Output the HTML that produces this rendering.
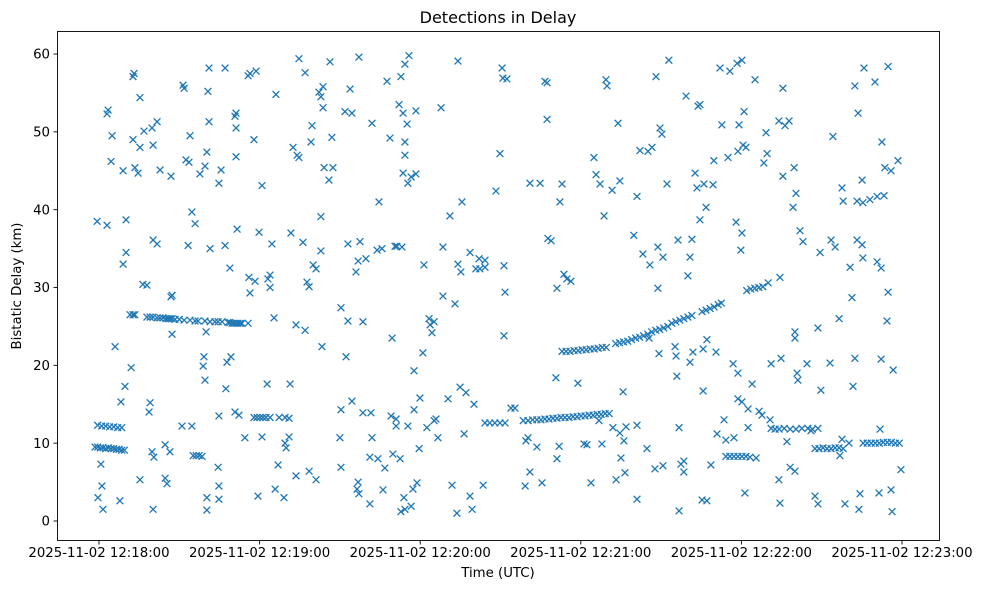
<!DOCTYPE html>
<html><head><meta charset="utf-8"><style>
html,body{margin:0;padding:0;background:#fff;width:985px;height:590px;overflow:hidden}
svg text{font-family:"DejaVu Sans","Liberation Sans",sans-serif;fill:#000}
</style></head><body>
<svg id="chart" width="985" height="590" xmlns="http://www.w3.org/2000/svg">
<rect x="0" y="0" width="985" height="590" fill="#fff"/>
<text x="498" y="23" font-size="16" text-anchor="middle">Detections in Delay</text>
<text x="498" y="577" font-size="13.3" text-anchor="middle">Time (UTC)</text>
<text x="0" y="0" font-size="13.3" text-anchor="middle" transform="translate(21,286) rotate(-90)">Bistatic Delay (km)</text>
<g id="marks"></g>
<g id="axes"></g>
<rect x="57.5" y="31.5" width="882" height="509" fill="none" stroke="#000" stroke-width="0.9"/>
</svg>
<script>
// time = seconds since 2025-11-02 12:18:00 UTC, delay = km
const xTickSeconds = [0, 60, 120, 180, 240, 300];
const xTickLabels = ["2025-11-02 12:18:00","2025-11-02 12:19:00","2025-11-02 12:20:00","2025-11-02 12:21:00","2025-11-02 12:22:00","2025-11-02 12:23:00"];
const yTicks = [0, 10, 20, 30, 40, 50, 60];

const trackEarly9 = [[-1.5,9.5],[-0.5,9.5],[0.5,9.4],[1.5,9.4],[2.5,9.3],[3.5,9.4],[4.5,9.3],[5.5,9.3],[6.5,9.2],[7.5,9.2],[8.5,9.1],[9.5,9.1]];
const trackEarly12 = [[-0.5,12.3],[1,12.2],[2.5,12.2],[4,12.1],[5.5,12.1],[7,12.0],[8.5,12.0]];
const track26 = [[11.6,26.5],[12.7,26.5],[13.4,26.5],[17.9,26.2],[19.1,26.2],[20.2,26.2],[21.7,26.1],[22.8,26.1],[23.9,26.1],[25.0,26.0],[25.8,26.0],[26.5,26.0],[27.3,26.0],[28.4,25.9],[30.0,25.9],[31.8,25.8],[34.0,25.8],[35.9,25.7],[37.0,25.7],[39.6,25.7],[41.5,25.6],[43.3,25.6],[44.5,25.6],[46.0,25.6],[48.2,25.5],[48.9,25.5],[49.7,25.4],[50.4,25.4],[51.2,25.4],[51.9,25.4],[52.7,25.4],[53.4,25.4],[55.7,25.4]];
const track8a = [[35.2,8.4],[36.3,8.4],[37.4,8.4],[38.5,8.3]];
const track13a = [[57.9,13.3],[59.0,13.3],[60.2,13.3],[61.3,13.3],[62.4,13.3],[63.9,13.3],[67.3,13.3],[69.5,13.3],[71.0,13.2]];
const track12b = [[144.2,12.6],[146.0,12.6],[147.9,12.6],[149.8,12.6],[151.7,12.6]];
const track13b = [[158.5,12.9],[160.3,12.9],[162.0,13.0],[163.6,13.0],[165.1,13.0],[166.6,13.1],[168.1,13.1],[169.6,13.2],[171.1,13.2],[172.6,13.3],[174.1,13.3],[175.6,13.3],[177.1,13.4],[178.6,13.4],[180.1,13.5],[181.6,13.5],[183.1,13.6],[184.6,13.6],[186.1,13.7],[187.6,13.7],[189.1,13.8],[190.6,13.8]];
const trackRising = [[173.0,21.8],[174.5,21.8],[176.0,21.8],[177.5,21.9],[179.0,21.9],[180.5,22.0],[182.0,22.0],[183.5,22.1],[185.0,22.1],[186.5,22.2],[188.0,22.3],[189.5,22.3],[193.0,22.8],[194.5,22.9],[196.0,23.0],[197.5,23.1],[199.0,23.3],[200.5,23.5],[202.0,23.6],[203.5,23.8],[205.0,24.0],[206.5,24.3],[208.0,24.5],[209.5,24.6],[211.0,24.8],[212.5,25.0],[214.0,25.4],[215.5,25.6],[217.0,25.8],[218.5,26.0],[220.0,26.2],[221.5,26.4],[225.3,26.9],[226.8,27.1],[228.3,27.3],[229.8,27.5],[231.3,27.8],[232.5,28.0],[242.0,29.6],[243.5,29.8],[245.0,29.9],[246.5,30.0],[248.0,30.1],[250.0,30.6],[254.4,31.3]];
const track8b = [[234.2,8.3],[235.7,8.3],[237.2,8.3],[238.7,8.3],[240.2,8.3],[241.7,8.3],[243.2,8.2]];
const track12c = [[251.1,11.9],[252.6,11.8],[254.1,11.8],[256.0,11.9],[258.2,11.8],[260.4,11.8],[262.6,11.9],[264.8,11.9],[266.5,11.8],[268.6,11.9]];
const track9c = [[267.5,9.3],[269.0,9.3],[270.5,9.4],[272.0,9.3],[273.5,9.3],[275.0,9.4],[276.5,9.4],[278.0,9.3]];
const track10c = [[285.5,10.0],[287.0,10.0],[288.5,10.0],[290.0,10.0],[291.5,10.0],[293.0,10.1],[294.5,10.1],[296.0,10.1],[297.5,10.0],[299.0,10.0]];
const scattered = [[-0.7,38.5],[-0.4,3],[0.7,7.3],[1.5,1.5],[1.1,4.5],[3.0,52.3],[3.4,52.8],[3.0,38],[4.9,49.5],[4.5,46.2],[6.0,22.4],[7.8,2.6],[8.2,15.3],[9.0,45],[9.7,17.3],[10.1,34.5],[9.0,33],[10.1,38.7],[12.0,19.7],[12.7,57.1],[13.1,57.5],[12.7,49],[13.4,45.4],[15.3,54.4],[15.3,5.3],[14.6,44.7],[15.3,48],[16.4,30.4],[17.9,30.3],[16.8,50.1],[18.7,14],[19.1,15.2],[19.8,8.9],[20.5,8.2],[20.2,1.5],[19.8,50.5],[20.2,48.3],[20.2,36.1],[21.7,35.6],[21.7,51.3],[22.8,45.1],[24.7,5.5],[25.4,4.8],[24.7,9.8],[26.5,8.9],[26.9,44.3],[27.3,29],[27.3,24],[26.9,28.8],[31.0,12.2],[31.4,56],[31.8,55.6],[32.5,46.4],[33.3,35.4],[33.6,46.1],[34.0,49.5],[34.7,12.2],[34.7,39.7],[35.9,38.2],[37.7,44.6],[38.9,19.9],[39.2,21.1],[39.6,18.1],[39.6,45.6],[40.0,24.3],[40.3,47.4],[40.3,3],[40.3,1.4],[41.1,58.2],[40.7,55.2],[41.1,51.3],[41.5,35],[44.5,6.9],[44.8,4.5],[44.8,2.8],[44.8,43.4],[45.6,45.1],[44.8,13.5],[47.1,58.2],[47.1,35.4],[47.4,17],[47.8,20.4],[49.3,21.1],[48.9,32.5],[50.8,52],[51.2,52.4],[51.2,50.5],[51.2,46.8],[50.8,14],[51.6,37.5],[52.3,13.6],[54.5,10.7],[55.7,57.2],[56.4,57.5],[56.0,31.3],[56.4,29.3],[57.9,49],[58.3,30.8],[58.7,57.8],[59.4,3.2],[59.8,37.1],[60.9,43.1],[60.9,10.8],[62.8,17.6],[63.1,31.1],[63.9,31.6],[63.9,30],[64.6,35.6],[65.4,26.1],[66.1,54.8],[66.9,7.2],[65.8,4.1],[69.1,3],[69.9,9.4],[69.5,10],[71.0,10.8],[71.7,37],[71.4,17.6],[72.5,48],[73.6,5.8],[74.0,47],[74.7,46.7],[73.6,25.2],[74.7,59.4],[76.2,35.8],[77.0,57.6],[77.0,24.5],[77.7,30.7],[78.5,30.1],[78.5,6.4],[79.2,48.7],[79.6,50.8],[80.0,32.9],[81.1,5.3],[81.1,32.4],[82.2,55.1],[82.9,54.5],[82.9,34.7],[83.7,53.1],[83.7,55.8],[82.9,39.1],[83.3,22.4],[84.1,45.4],[85.9,43.8],[86.3,59],[87.4,45.4],[87.0,49.3],[90.0,10.7],[90.4,14.3],[90.4,6.9],[90.4,27.4],[91.9,52.6],[92.3,21.1],[93.0,35.6],[93.0,25.7],[93.8,55.5],[94.5,52.4],[94.5,15.4],[96.0,32],[96.4,4.1],[97.1,3.5],[96.8,5],[96.8,33.4],[97.1,59.6],[97.5,35.9],[98.6,13.9],[98.6,25.6],[99.7,33.7],[101.2,2.2],[101.2,8.2],[101.6,13.9],[102.0,51.1],[102.0,10.7],[103.9,34.8],[104.6,41],[104.2,8],[105.7,35],[106.1,4],[106.8,6.8],[107.6,56.5],[108.7,49.2],[109.1,13.5],[109.5,23.5],[109.8,8.6],[110.6,35.3],[111.0,13.1],[111.0,12.2],[111.3,35.3],[112.1,53.5],[112.5,8],[112.8,1.2],[112.8,57.1],[113.2,35.2],[113.6,52.4],[113.6,44.7],[113.9,3],[114.3,1.5],[114.3,47],[114.3,58.7],[114.3,48.7],[115.1,51],[115.4,12.2],[115.4,43.4],[115.8,59.8],[116.6,1.9],[116.6,44.2],[117.3,4.1],[117.7,19.3],[117.7,14.3],[118.4,44.6],[118.4,52.7],[118.8,4.9],[119.6,9.3],[119.9,15.8],[121.0,21.6],[121.4,32.9],[122.5,12],[123.3,26],[123.7,25.2],[124.4,24.2],[125.2,12.9],[125.2,25.6],[125.9,13.1],[126.6,10.7],[127.8,53.1],[128.5,35.2],[128.5,28.9],[130.4,15.7],[131.1,39.2],[131.9,4.6],[133.0,27.9],[133.7,1],[134.1,59.1],[134.1,33],[134.9,17.2],[135.2,32],[135.6,41],[136.4,11.2],[137.1,16.5],[138.6,3.2],[138.6,34.5],[139.4,1.5],[140.1,15],[140.8,32.4],[142.0,33.7],[142.3,32.4],[144.2,32.6],[143.5,4.6],[144.2,33.5],[148.3,42.4],[149.8,47.2],[150.6,58.2],[150.9,56.9],[151.3,23.8],[151.3,32.8],[151.7,29.4],[152.4,56.8],[153.9,14.5],[155.4,14.5],[159.2,4.5],[159.5,10.3],[160.3,10.7],[161.0,43.4],[161.0,6.3],[163.6,9.5],[164.8,43.4],[165.5,4.9],[166.6,56.5],[167.4,56.3],[167.4,51.6],[167.7,36.3],[168.9,36],[170.7,18.4],[171.1,29.9],[171.1,8],[171.9,9.6],[172.2,41],[173.0,43.3],[173.7,31.7],[174.8,31.1],[176.3,30.8],[178.9,17.7],[181.2,9.9],[182.3,9.8],[183.8,4.9],[184.9,46.7],[185.7,44.5],[186.8,12.9],[187.2,43.3],[187.9,9.9],[188.7,39.2],[189.4,56.7],[189.8,55.9],[191.7,42.5],[192.0,12],[193.2,5.3],[193.9,51.1],[194.6,43.7],[194.6,11.3],[195.0,8.1],[195.8,16.6],[196.1,10.3],[196.5,6.2],[196.9,12.1],[199.8,36.7],[201.0,41.7],[201.0,12.3],[201.0,2.8],[202.1,47.6],[203.2,34.3],[204.7,9.3],[205.1,47.5],[205.5,23.5],[205.8,32.9],[206.6,48],[207.7,6.7],[208.1,57.1],[208.8,35.2],[208.8,29.9],[209.2,21.5],[209.6,50.5],[210.3,49.7],[210.7,33.9],[210.7,7.1],[212.2,43.3],[212.9,59.2],[215.2,22.4],[215.6,21.2],[215.9,18.6],[216.3,36.1],[216.7,12],[216.7,1.3],[217.4,7.3],[218.5,6.3],[218.5,7.7],[219.3,54.6],[220.0,31.5],[220.8,20.4],[220.8,33.9],[221.5,36.2],[221.9,21.7],[222.7,44.7],[223.4,42.8],[223.8,53.3],[224.5,53.5],[224.5,38.7],[225.3,2.7],[225.7,16.7],[225.7,22.1],[226.0,43.3],[226.8,40.3],[227.1,23.3],[227.1,2.6],[228.6,7.2],[229.4,43.2],[229.7,46.3],[230.5,21.7],[230.9,11.2],[232.0,58.2],[232.7,50.9],[233.5,13],[234.2,10.4],[235.0,46.7],[235.7,57.8],[236.9,20.2],[237.2,10.7],[238.0,38.4],[238.4,58.8],[238.7,47.5],[238.7,15.7],[238.7,19],[239.1,50.9],[239.8,34.8],[240.2,59.2],[240.2,37],[240.2,15.3],[240.6,48.3],[241.0,52.6],[241.3,3.6],[241.7,48],[242.5,12],[242.5,14.4],[244.0,17.6],[245.1,56.7],[245.5,8.1],[246.6,14.1],[247.7,13.6],[248.4,46],[249.2,49.9],[249.6,47.2],[250.7,13],[251.1,20.2],[254.0,5.3],[254.0,51.4],[254.4,2.3],[254.8,20.9],[255.5,44.3],[255.5,55.6],[256.3,50.8],[257.0,10.2],[257.8,51.4],[258.2,6.9],[259.3,40.3],[259.7,45.4],[260.0,6.4],[260.0,24.3],[260.0,23.5],[260.4,42.1],[260.8,19],[261.1,18.1],[261.9,37.3],[263.0,35.9],[264.5,20.2],[266.0,11.6],[267.5,3.2],[268.6,2.2],[268.6,24.8],[269.4,34.5],[269.7,16.8],[273.1,20.3],[273.5,36.1],[274.2,49.4],[275.0,35.2],[276.5,26],[276.8,8.4],[277.6,10.5],[277.6,42.8],[278.0,41.1],[278.7,2.2],[280.2,10],[280.6,32.6],[281.3,28.7],[281.7,17.3],[282.4,20.9],[282.4,55.9],[283.2,41.1],[283.2,36.1],[283.6,52.4],[283.9,1.5],[284.3,3.5],[285.1,35.5],[285.1,43.8],[285.4,33.8],[285.4,40.9],[285.8,58.2],[288.0,41.3],[289.9,56.4],[290.7,41.7],[290.7,33.3],[291.4,3.6],[291.8,11.8],[292.2,32.5],[292.2,20.8],[292.5,48.7],[293.3,41.8],[293.6,45.4],[294.4,25.7],[294.8,29.4],[294.8,58.4],[295.9,45],[295.9,4],[296.3,1.2],[296.7,19.4],[298.5,46.3],[299.6,6.6]];

const allGroups = [trackEarly9, trackEarly12, track26, track8a, track13a, track12b, track13b, trackRising, track8b, track12c, track9c, track10c, scattered];

const PX0 = 99, PX_PER_SEC = 160.6/60;
const PY0 = 521, PY_PER_KM = 7.783;
function xScale(t){ return PX0 + t*PX_PER_SEC; }
function yScale(d){ return PY0 - d*PY_PER_KM; }

const NS = "http://www.w3.org/2000/svg";
const marks = document.getElementById('marks');
const axes = document.getElementById('axes');
const s = 3.4;
allGroups.forEach(function(group){
  group.forEach(function(p){
    const cx = xScale(p[0]), cy = yScale(p[1]);
    const path = document.createElementNS(NS,'path');
    path.setAttribute('d','M'+(cx-s)+' '+(cy-s)+'L'+(cx+s)+' '+(cy+s)+'M'+(cx-s)+' '+(cy+s)+'L'+(cx+s)+' '+(cy-s));
    path.setAttribute('stroke','#1f77b4');
    path.setAttribute('stroke-width','1.3');
    path.setAttribute('fill','none');
    
    
    marks.appendChild(path);
  });
});

xTickSeconds.forEach(function(t,i){
  const x = xScale(t);
  const ln = document.createElementNS(NS,'line');
  ln.setAttribute('x1',x);ln.setAttribute('x2',x);ln.setAttribute('y1',540.5);ln.setAttribute('y2',544.5);
  ln.setAttribute('stroke','#000');ln.setAttribute('stroke-width','0.9');
  
  
  axes.appendChild(ln);
  const tx = document.createElementNS(NS,'text');
  tx.setAttribute('x',x);tx.setAttribute('y',557);tx.setAttribute('font-size','13.3');tx.setAttribute('text-anchor','middle');
  tx.textContent = xTickLabels[i];
  
  
  axes.appendChild(tx);
});
yTicks.forEach(function(v){
  const y = yScale(v);
  const ln = document.createElementNS(NS,'line');
  ln.setAttribute('x1',53.5);ln.setAttribute('x2',57.5);ln.setAttribute('y1',y);ln.setAttribute('y2',y);
  ln.setAttribute('stroke','#000');ln.setAttribute('stroke-width','0.9');
  
  
  axes.appendChild(ln);
  const tx = document.createElementNS(NS,'text');
  tx.setAttribute('x',50);tx.setAttribute('y',y+4.6);tx.setAttribute('font-size','13.3');tx.setAttribute('text-anchor','end');
  tx.textContent = String(v);
  
  
  axes.appendChild(tx);
});
</script>
</body></html>
